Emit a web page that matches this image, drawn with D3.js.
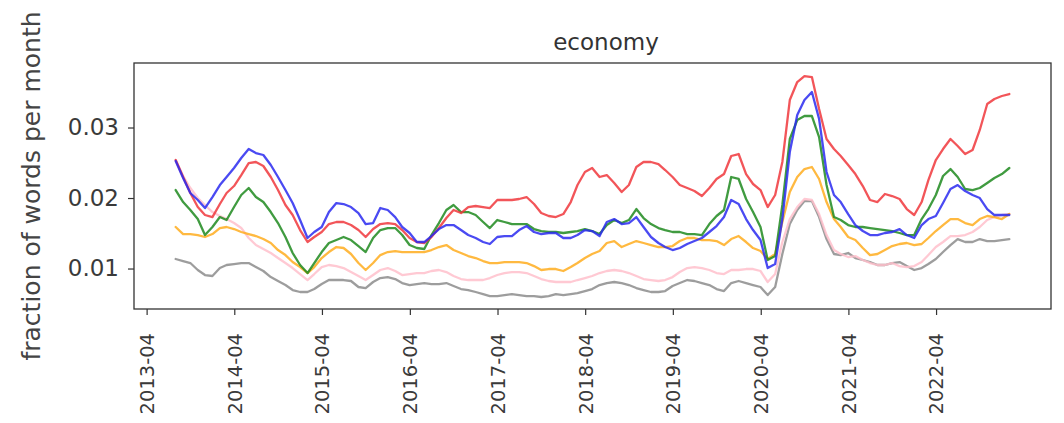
<!DOCTYPE html>
<html>
<head>
<meta charset="utf-8">
<script src="https://cdn.jsdelivr.net/npm/d3@7"></script>
<style>
  html, body { margin: 0; padding: 0; background: #fff; }
  svg { display: block; font-family: "DejaVu Sans", sans-serif; }
</style>
</head>
<body>
<svg id="chart" width="1064" height="423"></svg>
<script>
// Monthly series, July 2013 – January 2023 (month-end stamps)
const firstMonth = new Date(Date.UTC(2013, 6, 1));
const monthCount = 115;

const red = [
  0.02539, 0.02298, 0.02071, 0.01872, 0.01759, 0.01730, 0.01915, 0.02071, 0.02170, 0.02326,
  0.02496, 0.02511, 0.02454, 0.02298, 0.02113, 0.01901, 0.01759, 0.01546, 0.01376, 0.01447,
  0.01518, 0.01631, 0.01660, 0.01660, 0.01617, 0.01546, 0.01447, 0.01560, 0.01631, 0.01645,
  0.01631, 0.01546, 0.01433, 0.01376, 0.01362, 0.01447, 0.01574, 0.01716, 0.01830, 0.01787,
  0.01872, 0.01887, 0.01872, 0.01858, 0.01972, 0.01972, 0.01972, 0.01986, 0.02014, 0.01915,
  0.01787, 0.01745, 0.01730, 0.01773, 0.01943, 0.02184, 0.02369, 0.02426, 0.02298, 0.02326,
  0.02213, 0.02085, 0.02184, 0.02440, 0.02511, 0.02511, 0.02482, 0.02397, 0.02298, 0.02184,
  0.02142, 0.02099, 0.02028, 0.02142, 0.02270, 0.02340, 0.02596, 0.02624, 0.02340, 0.02199,
  0.02113, 0.01872, 0.02043, 0.02511, 0.03390, 0.03645, 0.03730, 0.03716, 0.03262, 0.02837,
  0.02695, 0.02596, 0.02468, 0.02340, 0.02170, 0.01972, 0.01943, 0.02057, 0.02028, 0.01986,
  0.01844, 0.01759, 0.01943, 0.02255, 0.02539, 0.02695, 0.02837, 0.02738, 0.02624, 0.02681,
  0.02965, 0.03333, 0.03404, 0.03447, 0.03475
];
const blue = [
  0.02525, 0.02284, 0.02071, 0.01972, 0.01858, 0.02014, 0.02184, 0.02298, 0.02426, 0.02567,
  0.02695, 0.02638, 0.02610, 0.02468, 0.02298, 0.02113, 0.01929, 0.01688, 0.01433, 0.01518,
  0.01589, 0.01801, 0.01929, 0.01915, 0.01872, 0.01787, 0.01631, 0.01645, 0.01858, 0.01830,
  0.01730, 0.01589, 0.01504, 0.01376, 0.01376, 0.01461, 0.01560, 0.01617, 0.01617, 0.01546,
  0.01475, 0.01433, 0.01376, 0.01348, 0.01447, 0.01461, 0.01461, 0.01546, 0.01603, 0.01518,
  0.01489, 0.01504, 0.01504, 0.01433, 0.01433, 0.01475, 0.01546, 0.01532, 0.01461, 0.01660,
  0.01702, 0.01631, 0.01645, 0.01730, 0.01589, 0.01447, 0.01362, 0.01305, 0.01262, 0.01291,
  0.01348, 0.01390, 0.01433, 0.01518, 0.01603, 0.01730, 0.01972, 0.01915, 0.01702, 0.01546,
  0.01404, 0.01007, 0.01064, 0.01702, 0.02652, 0.03177, 0.03390, 0.03504, 0.03121, 0.02369,
  0.02043, 0.01943, 0.01773, 0.01617, 0.01532, 0.01475, 0.01475, 0.01504, 0.01518, 0.01560,
  0.01475, 0.01433, 0.01617, 0.01702, 0.01745, 0.01929, 0.02128, 0.02184, 0.02099, 0.02043,
  0.02000, 0.01844, 0.01759, 0.01759, 0.01759
];
const green = [
  0.02113, 0.01943, 0.01830, 0.01702, 0.01475, 0.01589, 0.01730, 0.01688, 0.01872, 0.02043,
  0.02142, 0.02014, 0.01943, 0.01801, 0.01645, 0.01447, 0.01220, 0.01050, 0.00936, 0.01078,
  0.01234, 0.01362, 0.01404, 0.01447, 0.01404, 0.01319, 0.01234, 0.01433, 0.01546, 0.01574,
  0.01574, 0.01475, 0.01333, 0.01291, 0.01277, 0.01475, 0.01645, 0.01830, 0.01901, 0.01801,
  0.01801, 0.01759, 0.01660, 0.01574, 0.01688, 0.01660, 0.01631, 0.01631, 0.01631, 0.01560,
  0.01532, 0.01518, 0.01518, 0.01504, 0.01518, 0.01532, 0.01560, 0.01532, 0.01489, 0.01617,
  0.01688, 0.01645, 0.01688, 0.01844, 0.01716, 0.01631, 0.01574, 0.01546, 0.01518, 0.01518,
  0.01489, 0.01489, 0.01475, 0.01631, 0.01745, 0.01830, 0.02298, 0.02270, 0.01986, 0.01801,
  0.01589, 0.01121, 0.01177, 0.01901, 0.02837, 0.03106, 0.03163, 0.03163, 0.02865, 0.02184,
  0.01730, 0.01688, 0.01617, 0.01589, 0.01589, 0.01574, 0.01560, 0.01546, 0.01532, 0.01504,
  0.01475, 0.01475, 0.01702, 0.01844, 0.02043, 0.02312, 0.02411, 0.02298, 0.02128, 0.02113,
  0.02142, 0.02213, 0.02284, 0.02340, 0.02426
];
const orange = [
  0.01589, 0.01489, 0.01489, 0.01475, 0.01447, 0.01489, 0.01574, 0.01589, 0.01560, 0.01518,
  0.01489, 0.01461, 0.01418, 0.01362, 0.01262, 0.01191, 0.01092, 0.01021, 0.00936, 0.01021,
  0.01149, 0.01234, 0.01305, 0.01291, 0.01206, 0.01078, 0.00979, 0.01078, 0.01191, 0.01234,
  0.01248, 0.01234, 0.01234, 0.01234, 0.01234, 0.01262, 0.01305, 0.01333, 0.01262, 0.01220,
  0.01177, 0.01149, 0.01106, 0.01078, 0.01078, 0.01092, 0.01092, 0.01092, 0.01078, 0.01035,
  0.00979, 0.00993, 0.00993, 0.00965, 0.01021, 0.01078, 0.01149, 0.01206, 0.01248, 0.01362,
  0.01390, 0.01305, 0.01348, 0.01390, 0.01362, 0.01333, 0.01305, 0.01305, 0.01319, 0.01390,
  0.01433, 0.01433, 0.01404, 0.01404, 0.01390, 0.01333, 0.01418, 0.01461, 0.01376, 0.01291,
  0.01248, 0.01135, 0.01206, 0.01660, 0.02085, 0.02298, 0.02411, 0.02440, 0.02270, 0.01943,
  0.01702, 0.01589, 0.01447, 0.01404, 0.01291, 0.01191, 0.01206, 0.01262, 0.01319, 0.01348,
  0.01362, 0.01333, 0.01348, 0.01433, 0.01532, 0.01617, 0.01702, 0.01702, 0.01645, 0.01617,
  0.01702, 0.01745, 0.01730, 0.01702, 0.01773
];
const pink = [
  0.02539, 0.02312, 0.02142, 0.02000, 0.01901, 0.01801, 0.01745, 0.01702, 0.01645, 0.01574,
  0.01433, 0.01333, 0.01277, 0.01220, 0.01149, 0.01078, 0.01007, 0.00922, 0.00837, 0.00922,
  0.01021, 0.01050, 0.01035, 0.01007, 0.00950, 0.00894, 0.00837, 0.00908, 0.00979, 0.01007,
  0.00965, 0.00908, 0.00922, 0.00936, 0.00936, 0.00965, 0.00979, 0.00950, 0.00894, 0.00851,
  0.00837, 0.00837, 0.00837, 0.00865, 0.00908, 0.00936, 0.00950, 0.00950, 0.00936, 0.00894,
  0.00851, 0.00823, 0.00809, 0.00809, 0.00809, 0.00837, 0.00865, 0.00894, 0.00936, 0.00965,
  0.00979, 0.00965, 0.00936, 0.00894, 0.00851, 0.00837, 0.00823, 0.00837, 0.00879, 0.00950,
  0.01007, 0.01021, 0.01007, 0.00979, 0.00936, 0.00922, 0.00979, 0.00979, 0.00993, 0.00993,
  0.00965, 0.00809, 0.00922, 0.01376, 0.01702, 0.01872, 0.01986, 0.01972, 0.01773, 0.01475,
  0.01262, 0.01206, 0.01163, 0.01177, 0.01121, 0.01078, 0.01050, 0.01050, 0.01078, 0.01035,
  0.01021, 0.01035, 0.01092, 0.01191, 0.01305, 0.01376, 0.01461, 0.01461, 0.01475, 0.01518,
  0.01589, 0.01688, 0.01730, 0.01759, 0.01773
];
const gray = [
  0.01135, 0.01106, 0.01078, 0.00979, 0.00908, 0.00894, 0.01007, 0.01050, 0.01064, 0.01078,
  0.01078, 0.01021, 0.00965, 0.00879, 0.00823, 0.00766, 0.00695, 0.00667, 0.00667, 0.00709,
  0.00780, 0.00837, 0.00837, 0.00837, 0.00823, 0.00738, 0.00723, 0.00809, 0.00865, 0.00879,
  0.00851, 0.00794, 0.00766, 0.00780, 0.00794, 0.00780, 0.00780, 0.00794, 0.00752, 0.00709,
  0.00695, 0.00667, 0.00638, 0.00610, 0.00610, 0.00624, 0.00638, 0.00624, 0.00610, 0.00610,
  0.00596, 0.00610, 0.00638, 0.00624, 0.00638, 0.00652, 0.00681, 0.00709, 0.00766, 0.00794,
  0.00809, 0.00794, 0.00766, 0.00723, 0.00695, 0.00667, 0.00667, 0.00681, 0.00752, 0.00794,
  0.00837, 0.00823, 0.00794, 0.00766, 0.00709, 0.00681, 0.00794, 0.00823, 0.00794, 0.00766,
  0.00738, 0.00624, 0.00738, 0.01206, 0.01631, 0.01830, 0.01957, 0.01957, 0.01730, 0.01418,
  0.01206, 0.01191, 0.01220, 0.01149, 0.01121, 0.01092, 0.01050, 0.01050, 0.01078, 0.01092,
  0.01035, 0.00979, 0.01007, 0.01064, 0.01135, 0.01234, 0.01333, 0.01418, 0.01376, 0.01376,
  0.01418, 0.01390, 0.01390, 0.01404, 0.01418
];

const yTicks = [0.01, 0.02, 0.03];
const xTickLabels = ["2013-04", "2014-04", "2015-04", "2016-04", "2017-04",
                     "2018-04", "2019-04", "2020-04", "2021-04", "2022-04"];

// drawing order: back to front
const seriesList = [
  { name: "gray",   values: gray,   color: "#8c8c8c" },
  { name: "pink",   values: pink,   color: "#ffbfcb" },
  { name: "orange", values: orange, color: "#ffad1f" },
  { name: "green",  values: green,  color: "#1f8a1f" },
  { name: "red",    values: red,    color: "#f0373c" },
  { name: "blue",   values: blue,   color: "#2a2af0" }
];

// month-end date for each sample
const months = d3.range(monthCount).map(k =>
  d3.utcDay.offset(d3.utcMonth.offset(firstMonth, k + 1), -1));

const frame = { left: 134, top: 63, right: 1051, bottom: 309 };
const svg = d3.select("#chart");

const t0 = months[0], t1 = months[months.length - 1];
const pad = (t1 - t0) * 0.05;
const x = d3.scaleUtc()
  .domain([new Date(+t0 - pad), new Date(+t1 + pad)])
  .range([frame.left, frame.right]);
const y = d3.scaleLinear()
  .domain([0.00426, 0.03915])
  .range([frame.bottom, frame.top]);

const parseTick = d3.utcParse("%Y-%m");
const xTickDates = xTickLabels.map(parseTick);

// lines
const line = d3.line()
  .x((d, k) => x(months[k]))
  .y(d => y(d));

const plot = svg.append("g");
plot.selectAll("path.series")
  .data(seriesList)
  .join("path")
  .attr("class", "series")
  .attr("d", s => line(s.values))
  .attr("fill", "none")
  .attr("stroke", s => s.color)
  .attr("stroke-width", 2.3)
  .attr("stroke-linejoin", "round")
  .attr("stroke-linecap", "round")
  .attr("opacity", 0.85);

// frame
svg.append("rect")
  .attr("x", frame.left).attr("y", frame.top)
  .attr("width", frame.right - frame.left)
  .attr("height", frame.bottom - frame.top)
  .attr("fill", "none")
  .attr("stroke", "#333")
  .attr("stroke-width", 1.3);

// y axis
const yAxis = d3.axisLeft(y).tickValues(yTicks).tickSize(6).tickPadding(9)
  .tickFormat(d3.format(".2f"));
const gy = svg.append("g")
  .attr("transform", `translate(${frame.left},0)`)
  .call(yAxis);
gy.select(".domain").remove();
gy.selectAll(".tick line").attr("stroke", "#333").attr("stroke-width", 1.2);
gy.selectAll(".tick text")
  .attr("fill", "#3a3a3a")
  .style("font-size", "23px")
  .style("font-family", "DejaVu Sans");

// x axis
const xAxis = d3.axisBottom(x).tickValues(xTickDates).tickSize(6)
  .tickFormat(d3.utcFormat("%Y-%m"));
const gx = svg.append("g")
  .attr("transform", `translate(0,${frame.bottom})`)
  .call(xAxis);
gx.select(".domain").remove();
gx.selectAll(".tick line").attr("stroke", "#333").attr("stroke-width", 1.2);
gx.selectAll(".tick text")
  .attr("fill", "#3a3a3a")
  .style("font-size", "19.5px")
  .style("font-family", "DejaVu Sans")
  .attr("text-anchor", "end")
  .attr("transform", "rotate(-90)")
  .attr("x", -24)
  .attr("y", 0)
  .attr("dy", "0.35em");

// title
svg.append("text")
  .attr("x", 606)
  .attr("y", 50)
  .attr("text-anchor", "middle")
  .attr("fill", "#333")
  .style("font-size", "23px")
  .text("economy");

// y label
svg.append("text")
  .attr("transform", `translate(40,${(frame.top + frame.bottom) / 2}) rotate(-90)`)
  .attr("text-anchor", "middle")
  .attr("fill", "#444")
  .style("font-size", "25px")
  .text("fraction of words per month");
</script>
</body>
</html>
